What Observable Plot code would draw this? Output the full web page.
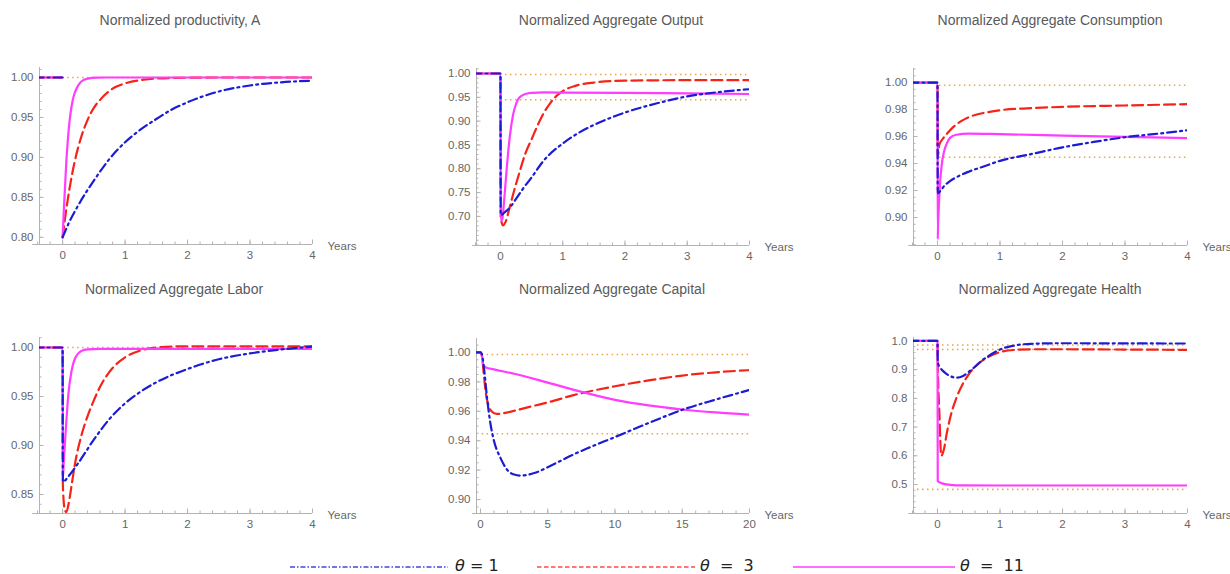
<!DOCTYPE html>
<html>
<head>
<meta charset="utf-8">
<script src="https://cdn.jsdelivr.net/npm/d3@7"></script>
<script src="https://cdn.jsdelivr.net/npm/@observablehq/plot@0.6"></script>
<style>
  html, body { margin: 0; padding: 0; background: #fff; }
  #wrap { position: relative; width: 1230px; height: 574px; overflow: hidden; font-family: "Liberation Sans", Arial, sans-serif; }
  .panel { position: absolute; }
  .title { position: absolute; font-size: 14px; color: #5a5a5a; white-space: nowrap; transform: translateX(-50%); line-height: 16px; }
  .leg { position: absolute; overflow: visible; }
  .legtext { position: absolute; font-family: "DejaVu Sans", sans-serif; font-size: 16px; color: #222; white-space: pre; line-height: 14px; }
  .legtext i { font-style: italic; }
</style>
</head>
<body>
<div id="wrap"></div>
<script>
// ---------------- data ----------------
const seriesNames = ["1", "3", "11"];
const panelTitles = [
  "Normalized productivity, A",
  "Normalized Aggregate Output",
  "Normalized Aggregate Consumption",
  "Normalized Aggregate Labor",
  "Normalized Aggregate Capital",
  "Normalized Aggregate Health"
];
const axisLabel = "Years";

// value before the shock (all series)
const preShock = [[-0.45, 1.0], [0, 1.0]];

// Productivity A
const prodA_t1 = [[0,0.80],[0.1,0.818],[0.25,0.84],[0.5,0.871],[0.75,0.898],[1,0.919],[1.25,0.935],[1.5,0.948],[1.75,0.96],[2,0.969],[2.5,0.9825],[3,0.990],[3.5,0.994],[4,0.996]];
const prodA_t3 = [[0,0.80],[0.05,0.83],[0.1,0.856],[0.2,0.897],[0.3,0.926],[0.4,0.947],[0.5,0.962],[0.6,0.972],[0.8,0.986],[1,0.9926],[1.3,0.9973],[1.7,0.9993],[2.5,1.0],[4,1.0]];
const prodA_t11 = [[0,0.80],[0.02,0.835],[0.04,0.865],[0.06,0.895],[0.08,0.918],[0.1,0.937],[0.13,0.957],[0.16,0.971],[0.2,0.982],[0.25,0.99],[0.3,0.995],[0.4,0.9985],[0.55,0.9998],[0.7,1.0],[4,1.0]];

// Aggregate output
const output_t1 = [[0.004,0.703],[0.08,0.71],[0.16,0.72],[0.25,0.737],[0.35,0.756],[0.5,0.782],[0.7,0.818],[1,0.853],[1.25,0.875],[1.5,0.892],[2,0.918],[2.5,0.937],[3,0.952],[3.5,0.961],[4,0.967]];
const output_t3 = [[0.004,0.70],[0.04,0.681],[0.08,0.688],[0.15,0.72],[0.2,0.745],[0.3,0.79],[0.4,0.832],[0.5,0.862],[0.6,0.892],[0.7,0.918],[0.8,0.938],[0.9,0.953],[1,0.963],[1.2,0.974],[1.5,0.981],[2,0.985],[3,0.986],[4,0.986]];
const output_t11 = [[0.004,0.69],[0.03,0.695],[0.06,0.735],[0.1,0.80],[0.15,0.868],[0.2,0.912],[0.25,0.936],[0.3,0.949],[0.4,0.957],[0.5,0.9595],[0.7,0.9602],[1,0.96],[2,0.9595],[3,0.9583],[4,0.957]];

// Aggregate consumption
const cons_t1 = [[0.004,0.918],[0.05,0.92],[0.1,0.923],[0.2,0.927],[0.35,0.931],[0.5,0.934],[0.75,0.938],[1,0.942],[1.5,0.947],[2,0.952],[2.5,0.956],[3,0.9595],[3.5,0.962],[4,0.9647]];
const cons_t3 = [[0.004,0.945],[0.03,0.954],[0.08,0.958],[0.15,0.962],[0.25,0.967],[0.4,0.972],[0.6,0.976],[0.8,0.978],[1,0.9795],[1.5,0.981],[2,0.982],[3,0.983],[4,0.984]];
const cons_t11 = [[0.004,0.884],[0.01,0.895],[0.02,0.907],[0.04,0.925],[0.07,0.94],[0.1,0.948],[0.15,0.955],[0.2,0.959],[0.3,0.9613],[0.5,0.9622],[1,0.9618],[2,0.9607],[3,0.9598],[4,0.9588]];

// Aggregate labor
const labor_t1 = [[0.004,0.863],[0.1,0.869],[0.25,0.882],[0.5,0.906],[0.75,0.927],[1,0.943],[1.25,0.955],[1.5,0.9645],[2,0.978],[2.5,0.988],[3,0.994],[3.5,0.998],[4,1.001]];
const labor_t3 = [[0.004,0.86],[0.03,0.836],[0.06,0.832],[0.1,0.842],[0.15,0.862],[0.2,0.882],[0.3,0.91],[0.4,0.93],[0.5,0.946],[0.6,0.96],[0.8,0.979],[1,0.99],[1.25,0.997],[1.5,1.0],[2,1.0012],[3,1.0012],[4,1.0012]];
const labor_t11 = [[0.004,0.866],[0.02,0.885],[0.04,0.905],[0.06,0.925],[0.08,0.943],[0.1,0.957],[0.13,0.971],[0.16,0.981],[0.2,0.989],[0.25,0.994],[0.3,0.9965],[0.4,0.998],[0.6,0.9985],[4,0.9985]];

// Aggregate capital (20 years)
const capital_t1 = [[0.1,0.999],[0.25,0.99],[0.5,0.968],[0.75,0.951],[1,0.94],[1.5,0.928],[2,0.92],[2.5,0.917],[3,0.9163],[3.5,0.9168],[4,0.918],[5,0.922],[6,0.9265],[7,0.931],[8,0.935],[10,0.9425],[12.5,0.952],[15,0.961],[17.5,0.968],[20,0.9745]];
const capital_t3 = [[0.1,0.998],[0.25,0.985],[0.4,0.972],[0.6,0.964],[0.8,0.9602],[1.2,0.9582],[1.6,0.9585],[2,0.9592],[3,0.9615],[4,0.9638],[5,0.966],[7,0.9712],[10,0.977],[12.5,0.981],[15,0.9843],[17.5,0.9865],[20,0.988]];
const capital_t11 = [[0.1,0.998],[0.2,0.992],[0.4,0.9898],[1,0.9885],[2.5,0.9855],[5,0.9795],[7.5,0.9733],[10,0.9678],[12.5,0.964],[15,0.9612],[17.5,0.9592],[20,0.9577]];

// Aggregate health
const health_t1 = [[0.004,0.925],[0.05,0.905],[0.1,0.893],[0.2,0.878],[0.3,0.872],[0.4,0.877],[0.5,0.892],[0.6,0.91],[0.7,0.93],[0.8,0.945],[1,0.97],[1.2,0.983],[1.5,0.99],[2,0.992],[3,0.9915],[4,0.991]];
const health_t3 = [[0.004,0.93],[0.03,0.75],[0.06,0.60],[0.1,0.62],[0.15,0.68],[0.2,0.73],[0.3,0.8],[0.4,0.848],[0.5,0.884],[0.6,0.91],[0.8,0.943],[1,0.961],[1.25,0.969],[1.5,0.971],[2,0.971],[3,0.97],[4,0.969]];
const health_t11 = [[0.004,0.512],[0.05,0.506],[0.1,0.502],[0.2,0.499],[0.4,0.497],[1,0.4965],[4,0.4965]];

// dotted reference levels
const refProd = [1.0];
const refOutput = [0.998, 0.945];
const refCons = [0.998, 0.9447];
const refLabor = [1.0];
const refCapital = [0.9986, 0.9447];
const refHealth = [0.986, 0.97, 0.483];

// tick labels
const xTicksYears = [0, 1, 2, 3, 4];
const xTicksCapital = [0, 5, 10, 15, 20];
const yTicksProd = [0.80, 0.85, 0.90, 0.95, 1.00];
const yTicksOutput = [0.70, 0.75, 0.80, 0.85, 0.90, 0.95, 1.00];
const yTicksCons = [0.90, 0.92, 0.94, 0.96, 0.98, 1.00];
const yTicksLabor = [0.85, 0.90, 0.95, 1.00];
const yTicksCapital = [0.90, 0.92, 0.94, 0.96, 0.98, 1.00];
const yTicksHealth = [0.5, 0.6, 0.7, 0.8, 0.9, 1.0];

// ---------------- layout & style ----------------
const AXIS = "#b3b3b3";
const LABEL = "#666";
const ORANGE = "#eba645";
const styles = [
  {stroke: "#1c1cd4", dash: "9,4,2,4"},
  {stroke: "#f42418", dash: "11,5"},
  {stroke: "#ff3cff", dash: null}
];
const drawOrder = [1, 2, 0];

const panels = [
  {series: [prodA_t1, prodA_t3, prodA_t11], gap: true, refs: refProd, refFrom: 0, xTicks: xTicksYears, yTicks: yTicksProd, fmt: d3.format(".2f"),
   left: 0, top: 0, m: [67, 98, 26, 39], xDom: [-0.37, 4], yDom: [0.791, 1.0125], xFrom: -0.48, xMinor: 0.2, yMinor: 0.01, tx: 180, ty: 12},
  {series: [output_t1, output_t3, output_t11], refs: refOutput, refFrom: 0, xTicks: xTicksYears, yTicks: yTicksOutput, fmt: d3.format(".2f"),
   left: 410, top: 0, m: [68, 71, 25, 66], xDom: [-0.385, 4], yDom: [0.639, 1.0105], xFrom: -0.45, xMinor: 0.2, yMinor: 0.01, tx: 611, ty: 12},
  {series: [cons_t1, cons_t3, cons_t11], refs: refCons, refFrom: 0.03, xTicks: xTicksYears, yTicks: yTicksCons, fmt: d3.format(".2f"),
   left: 820, top: 0, m: [68, 43, 25, 93], xDom: [-0.384, 4], yDom: [0.8793, 1.0104], xFrom: -0.46, xMinor: 0.2, yMinor: 0.005, tx: 1050, ty: 12},
  {series: [labor_t1, labor_t3, labor_t11], refs: refLabor, refFrom: 0, xTicks: xTicksYears, yTicks: yTicksLabor, fmt: d3.format(".2f"),
   left: 0, top: 270, m: [67, 98, 27, 39], xDom: [-0.37, 4], yDom: [0.8306, 1.0102], xFrom: -0.48, xMinor: 0.2, yMinor: 0.01, tx: 174, ty: 281},
  {series: [capital_t1, capital_t3, capital_t11], refs: refCapital, refFrom: 0.12, xTicks: xTicksCapital, yTicks: yTicksCapital, fmt: d3.format(".2f"),
   left: 410, top: 270, m: [68, 71, 27, 66], xDom: [-0.297, 20], yDom: [0.8905, 1.0095], xFrom: -0.6, xMinor: 1, yMinor: 0.005, tx: 612, ty: 281},
  {series: [health_t1, health_t3, health_t11], refs: refHealth, refFrom: -0.4, xTicks: xTicksYears, yTicks: yTicksHealth, fmt: d3.format(".1f"),
   left: 820, top: 270, m: [67, 43, 27, 93], xDom: [-0.384, 4], yDom: [0.399, 1.012], xFrom: -0.46, xMinor: 0.2, yMinor: 0.02, tx: 1050, ty: 281}
];

function stepTicks(lo, hi, step) {
  const out = [];
  for (let i = Math.ceil(lo / step - 1e-9); i * step <= hi + 1e-9; i++) out.push(+(i * step).toFixed(4));
  return out;
}

const wrap = document.getElementById("wrap");

panels.forEach((p, k) => {
  const [x0, x1] = p.xDom, [y0, y1] = p.yDom;
  const marks = [];
  // axis lines
  marks.push(Plot.ruleY([{y: y0, a: p.xFrom, b: x1}], {y: "y", x1: "a", x2: "b", stroke: AXIS, strokeWidth: 1}));
  marks.push(Plot.ruleX([{x: x0, a: y0, b: y1}], {x: "x", y1: "a", y2: "b", stroke: AXIS, strokeWidth: 1}));
  // ticks (inward)
  marks.push(Plot.axisX({ticks: stepTicks(p.xFrom, x1, p.xMinor), tickSize: -2.5, stroke: AXIS, tickFormat: () => ""}));
  marks.push(Plot.axisX({ticks: p.xTicks, tickSize: -4.5, stroke: AXIS, tickFormat: () => ""}));
  marks.push(Plot.axisY({ticks: stepTicks(y0, y1, p.yMinor), tickSize: -2.5, stroke: AXIS, tickFormat: () => ""}));
  marks.push(Plot.axisY({ticks: p.yTicks, tickSize: -4.5, stroke: AXIS, tickFormat: () => ""}));
  // tick labels
  marks.push(Plot.axisX({ticks: p.xTicks, tickSize: 0, tickPadding: 6, fill: LABEL, fontSize: 11.5, tickFormat: d => String(d)}));
  marks.push(Plot.axisY({ticks: p.yTicks, tickSize: 0, tickPadding: 6, fill: LABEL, fontSize: 11.5, tickFormat: p.fmt}));
  // axis label
  marks.push(Plot.text([{x: x1, y: y0, t: axisLabel}], {x: "x", y: "y", text: "t", dx: 15, dy: 2, textAnchor: "start", fill: LABEL, fontSize: 11.5}));
  // dotted reference lines
  marks.push(Plot.ruleY(p.refs.map(v => ({y: v, a: p.refFrom, b: x1})), {y: "y", x1: "a", x2: "b", stroke: ORANGE, strokeWidth: 1.6, strokeDasharray: "1.5,3.5", clip: true}));
  // curves
  for (const s of drawOrder) {
    const st = styles[s];
    const opts = {x: d => d[0], y: d => d[1], stroke: st.stroke, strokeWidth: 2.2, strokeDasharray: st.dash, curve: "monotone-x", clip: true};
    if (p.gap) {
      marks.push(Plot.line(preShock, opts));
      marks.push(Plot.line(p.series[s], opts));
    } else {
      marks.push(Plot.line(preShock.concat(p.series[s]), opts));
    }
  }
  const chart = Plot.plot({
    width: 410, height: 270,
    marginTop: p.m[0], marginRight: p.m[1], marginBottom: p.m[2], marginLeft: p.m[3],
    x: {domain: p.xDom},
    y: {domain: p.yDom},
    style: {fontFamily: "'Liberation Sans', Arial, sans-serif", fontSize: "11.5px", background: "transparent", overflow: "visible"},
    marks
  });
  chart.classList.add("panel");
  chart.style.left = p.left + "px";
  chart.style.top = p.top + "px";
  wrap.appendChild(chart);

  const t = document.createElement("div");
  t.className = "title";
  t.textContent = panelTitles[k];
  t.style.left = p.tx + "px";
  t.style.top = p.ty + "px";
  wrap.appendChild(t);
});

// ---------------- legend ----------------
const legendLayout = [
  {x1: 290, x2: 448, tx: 455, dash: "5,2,1.5,2", text: "<i>θ</i> = "},
  {x1: 537, x2: 695, tx: 700, dash: "4.5,2.5", text: "<i>θ</i>  =  "},
  {x1: 793, x2: 955, tx: 960, dash: null, text: "<i>θ</i>  =  "}
];
const legColors = ["#4646dc", "#ff4a4a", "#ff3cff"];
legendLayout.forEach((l, i) => {
  const svg = d3.create("svg").attr("class", "leg")
    .attr("width", l.x2 - l.x1).attr("height", 6)
    .style("left", l.x1 + "px").style("top", "564px");
  svg.append("line").attr("x1", 0).attr("x2", l.x2 - l.x1).attr("y1", 3).attr("y2", 3)
    .attr("stroke", legColors[i]).attr("stroke-width", 1.5)
    .attr("stroke-dasharray", l.dash);
  wrap.appendChild(svg.node());
  const t = document.createElement("div");
  t.className = "legtext";
  t.innerHTML = l.text + seriesNames[i];
  t.style.left = l.tx + "px";
  t.style.top = "559px";
  wrap.appendChild(t);
});
</script>
</body>
</html>
